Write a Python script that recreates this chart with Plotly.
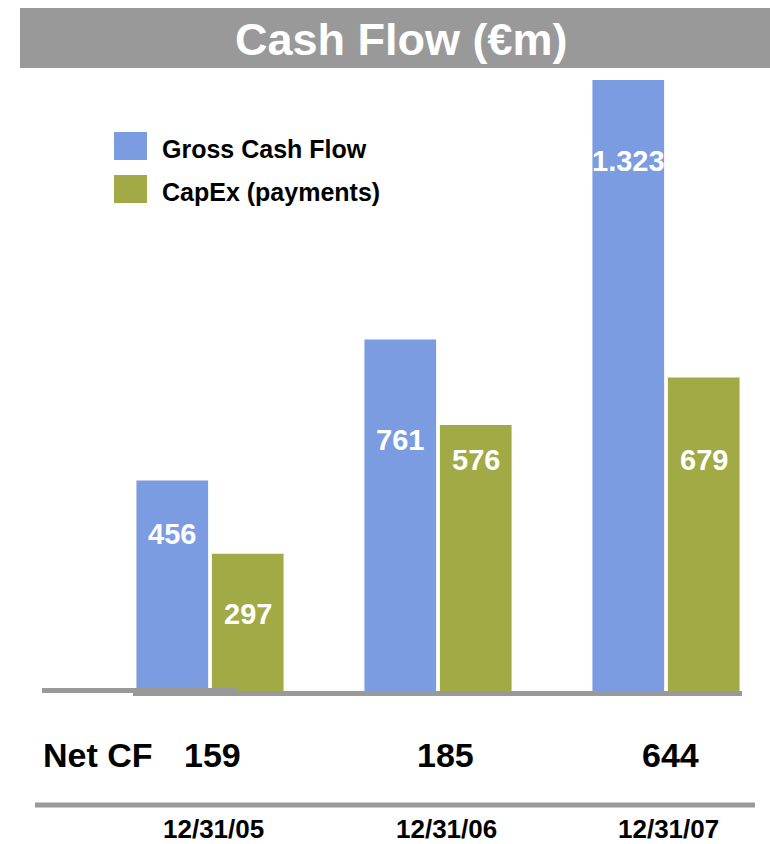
import plotly.graph_objects as go

# ---- data ----
periods = ["12/31/05", "12/31/06", "12/31/07"]
gross_cash_flow = [456, 761, 1323]
capex_payments = [297, 576, 679]
series_names = ["Gross Cash Flow", "CapEx (payments)"]
# vertical placement of the value labels inside the bars (value units)
gross_label_y = [346, 550, 1154]
capex_label_y = [173, 507, 507]

net_cf = [g - c for g, c in zip(gross_cash_flow, capex_payments)]

BLUE = "#7B9CE1"
GREEN = "#A1AA45"
GREY = "#999999"
FONT = "Liberation Sans, Arial, Helvetica, sans-serif"

W, H = 770, 844
ML, MR, MT, MB = 35, 15, 0, 39
PW = W - ML - MR
PH = H - MT - MB
BASE_PX = 691          # pixel row of the zero line
PX_PER_UNIT = 611 / 1323.0
SLOT = 228.0           # px per category

y_top = (BASE_PX - MT) / PX_PER_UNIT
y_bot = -(H - MB - BASE_PX) / PX_PER_UNIT
x0 = -(210 - ML) / SLOT
x1 = x0 + PW / SLOT

# small horizontal offsets of the texts under each column (px)
netcf_shift = [2, 7, 4]
date_shift = [3, 8, 2]


def px(xp):  # pixel x -> paper
    return (xp - ML) / PW


def py(yp):  # pixel y -> paper
    return (H - MB - yp) / PH


def fmt(v):
    return f"{v:,}".replace(",", ".")


fig = go.Figure()
fig.add_trace(go.Bar(name=series_names[0], x=periods, y=gross_cash_flow,
                     marker=dict(color=BLUE, line=dict(width=0))))
fig.add_trace(go.Bar(name=series_names[1], x=periods, y=capex_payments,
                     marker=dict(color=GREEN, line=dict(width=0))))

ann = []
for i in range(len(periods)):
    ann.append(dict(x=i, y=gross_label_y[i], xref="x", yref="y", xshift=-38, yshift=-3,
                    yanchor="middle", text=f"<b>{fmt(gross_cash_flow[i])}</b>",
                    showarrow=False, font=dict(family=FONT, size=29, color="white")))
    ann.append(dict(x=i, y=capex_label_y[i], xref="x", yref="y", xshift=38, yshift=-3,
                    yanchor="middle", text=f"<b>{fmt(capex_payments[i])}</b>",
                    showarrow=False, font=dict(family=FONT, size=29, color="white")))
    ann.append(dict(x=i, y=py(755), xref="x", yref="paper", xshift=netcf_shift[i],
                    yanchor="middle", text=f"<b>{fmt(net_cf[i])}</b>", showarrow=False,
                    font=dict(family=FONT, size=34, color="black")))
    ann.append(dict(x=i, y=py(829), xref="x", yref="paper", xshift=date_shift[i],
                    yanchor="middle", text=f"<b>{periods[i]}</b>", showarrow=False,
                    font=dict(family=FONT, size=26, color="black")))

ann.append(dict(x=px(41), y=py(755), xref="paper", yref="paper", xanchor="left",
                yanchor="middle", text="<b>Net CF</b>", showarrow=False,
                font=dict(family=FONT, size=34, color="black")))
ann.append(dict(x=px(401), y=py(40), xref="paper", yref="paper", xanchor="center",
                yanchor="middle", text="<b>Cash Flow (€m)</b>", showarrow=False,
                font=dict(family=FONT, size=45, color="white")))
# legend texts
ann.append(dict(x=px(160), y=py(149), xref="paper", yref="paper", xanchor="left",
                yanchor="middle", text=f"<b>{series_names[0]}</b>", showarrow=False,
                font=dict(family=FONT, size=25, color="black")))
ann.append(dict(x=px(160), y=py(192), xref="paper", yref="paper", xanchor="left",
                yanchor="middle", text=f"<b>{series_names[1]}</b>", showarrow=False,
                font=dict(family=FONT, size=25, color="black")))

shapes = [
    # title bar
    dict(type="rect", xref="paper", yref="paper", x0=px(20), x1=px(770),
         y0=py(68), y1=py(8), fillcolor=GREY, line=dict(width=0), layer="below"),
    # legend swatches
    dict(type="rect", xref="paper", yref="paper", x0=px(114), x1=px(147),
         y0=py(160), y1=py(132), fillcolor=BLUE, line=dict(width=0)),
    dict(type="rect", xref="paper", yref="paper", x0=px(114), x1=px(147),
         y0=py(203), y1=py(175), fillcolor=GREEN, line=dict(width=0)),
    # baseline segments
    dict(type="line", xref="paper", yref="paper", x0=px(42), x1=px(237),
         y0=py(690.5), y1=py(690.5), line=dict(color=GREY, width=5), layer="above"),
    dict(type="line", xref="paper", yref="paper", x0=px(133), x1=px(742),
         y0=py(693.5), y1=py(693.5), line=dict(color=GREY, width=5), layer="above"),
    # separator line above the period labels
    dict(type="line", xref="paper", yref="paper", x0=0, x1=1,
         y0=py(805), y1=py(805), line=dict(color=GREY, width=5), layer="above"),
]

fig.update_layout(
    width=W, height=H,
    margin=dict(l=ML, r=MR, t=MT, b=MB, pad=0, autoexpand=False),
    paper_bgcolor="white", plot_bgcolor="white",
    barmode="group", bargap=0.338, bargroupgap=0.05,
    showlegend=False,
    annotations=ann, shapes=shapes,
    font=dict(family=FONT),
    xaxis=dict(type="category", range=[x0, x1], showgrid=False, zeroline=False,
               showline=False, automargin=False, showticklabels=False,
               ticks="", fixedrange=True),
    yaxis=dict(range=[y_bot, y_top], visible=False, fixedrange=True, automargin=False),
)

fig.write_html(
    "out.html",
    config={"displayModeBar": False},
    post_script="document.body.style.margin='0';document.body.style.overflow='hidden';",
)
